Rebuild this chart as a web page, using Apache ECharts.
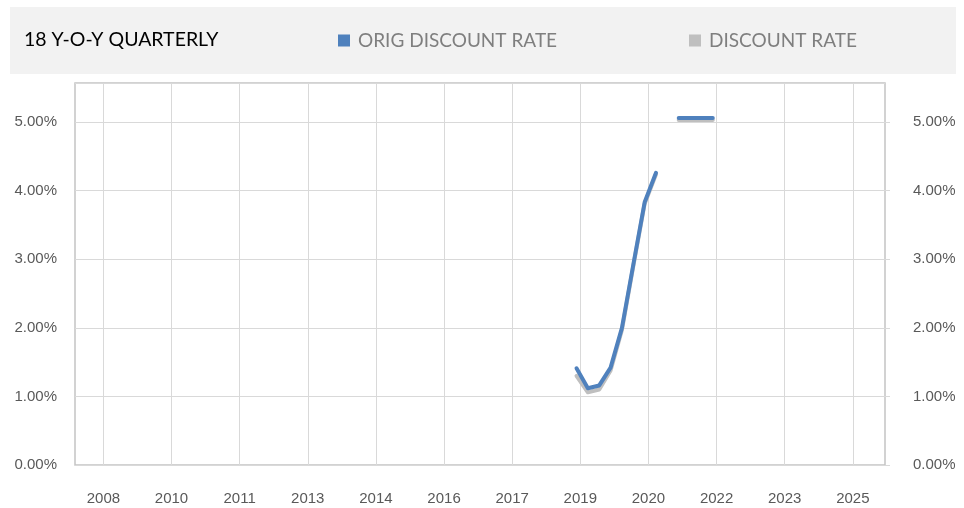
<!DOCTYPE html>
<html>
<head>
<meta charset="utf-8">
<title>18 Y-O-Y QUARTERLY</title>
<script src="https://cdn.jsdelivr.net/npm/echarts@6/dist/echarts.min.js"></script>
<style>
  html, body { margin: 0; padding: 0; background: #fff; }
  #chart { width: 964px; height: 508px; }
</style>
</head>
<body>
<div id="chart"></div>
<script>
// date axis, one slot per month, Dec 2007 .. Sep 2025
const axisStart = [2007, 12];
const axisEnd = [2025, 9];
// gridlines + year labels every 18 months
const labelMonths = ['2008-07', '2010-01', '2011-07', '2013-01', '2014-07', '2016-01',
  '2017-07', '2019-01', '2020-07', '2022-01', '2023-07', '2025-01'];

const quarterMonths = ['2018-12', '2019-03', '2019-06', '2019-09', '2019-12', '2020-03', '2020-06',
  '2020-09', '2020-12', '2021-03', '2021-06', '2021-09', '2021-12'];
const origDiscountRate = [1.41, 1.12, 1.16, 1.42, 2.00, 2.92, 3.83, 4.26, null, 5.06, 5.06, 5.06, 5.06];
const discountRate = [1.30, 1.06, 1.10, 1.38, 1.97, 2.90, 3.81, 4.24, null, 5.03, 5.03, 5.03, 5.03];

const yTicks = [0, 1, 2, 3, 4, 5];

const months = [];
for (let y = axisStart[0], m = axisStart[1]; y < axisEnd[0] || (y === axisEnd[0] && m <= axisEnd[1]);) {
  months.push(y + '-' + String(m).padStart(2, '0'));
  m++;
  if (m > 12) { m = 1; y++; }
}

const isLabelMonth = (idx, val) => labelMonths.indexOf(val) >= 0;
const pct = v => (yTicks.indexOf(v) >= 0 ? v.toFixed(2) + '%' : '');
const pairs = vals => quarterMonths.map((d, i) => [d, vals[i] == null ? '-' : vals[i]]);

const chart = echarts.init(document.getElementById('chart'));
chart.setOption({
  animation: false,
  backgroundColor: '#fff',
  graphic: [{
    type: 'rect',
    z: -10,
    shape: { x: 10, y: 7, width: 946, height: 67 },
    style: { fill: '#f2f2f2' }
  }],
  title: {
    text: '18 Y-O-Y QUARTERLY',
    left: 19,
    top: 25,
    textStyle: { color: '#000', fontSize: 19.5, fontWeight: 'normal', fontFamily: 'Lato' }
  },
  legend: [
    {
      data: ['ORIG DISCOUNT RATE'],
      left: 333, top: 26,
      icon: 'rect', itemWidth: 12, itemHeight: 12, itemGap: 0,
      textStyle: { color: '#7f7f7f', fontSize: 19, fontFamily: 'Lato', padding: [0, 0, 0, 3] }
    },
    {
      data: ['DISCOUNT RATE'],
      left: 684, top: 26,
      icon: 'rect', itemWidth: 12, itemHeight: 12, itemGap: 0,
      textStyle: { color: '#7f7f7f', fontSize: 19, fontFamily: 'Lato', padding: [0, 0, 0, 3] }
    }
  ],
  grid: {
    left: 75, right: 79, top: 83, bottom: 43,
    show: true, borderColor: '#c4c4c4', borderWidth: 1.5, backgroundColor: 'transparent'
  },
  xAxis: {
    type: 'category',
    data: months,
    boundaryGap: true,
    axisLine: { show: false },
    axisTick: { show: false },
    axisLabel: {
      interval: isLabelMonth,
      formatter: v => v.slice(0, 4),
      margin: 26,
      color: '#595959',
      fontSize: 15,
      fontFamily: 'Liberation Sans'
    },
    splitLine: {
      show: true,
      interval: isLabelMonth,
      alignWithLabel: true,
      lineStyle: { color: '#d9d9d9', width: 1 }
    }
  },
  yAxis: [
    {
      type: 'value',
      min: 0, max: 5.57, interval: 1,
      axisLine: { show: false },
      axisTick: { show: false },
      axisLabel: { formatter: pct, margin: 18, color: '#595959', fontSize: 15, fontFamily: 'Liberation Sans' },
      splitLine: { lineStyle: { color: '#d9d9d9', width: 1 } }
    },
    {
      type: 'value',
      position: 'right',
      min: 0, max: 5.57, interval: 1,
      axisLine: { show: false },
      axisTick: { show: true, length: 5, customValues: yTicks, lineStyle: { color: '#d9d9d9' } },
      axisLabel: { formatter: pct, margin: 28, color: '#595959', fontSize: 15, fontFamily: 'Liberation Sans' },
      splitLine: { show: false }
    }
  ],
  series: [
    {
      name: 'DISCOUNT RATE',
      type: 'line',
      data: pairs(discountRate),
      symbol: 'none',
      z: 2,
      itemStyle: { color: '#bfbfbf' },
      lineStyle: { color: '#bfbfbf', width: 4, cap: 'round', join: 'round' }
    },
    {
      name: 'ORIG DISCOUNT RATE',
      type: 'line',
      data: pairs(origDiscountRate),
      symbol: 'none',
      z: 3,
      itemStyle: { color: '#4f81bd' },
      lineStyle: { color: '#4f81bd', width: 4, cap: 'round', join: 'round' }
    }
  ]
});
</script>
</body>
</html>
